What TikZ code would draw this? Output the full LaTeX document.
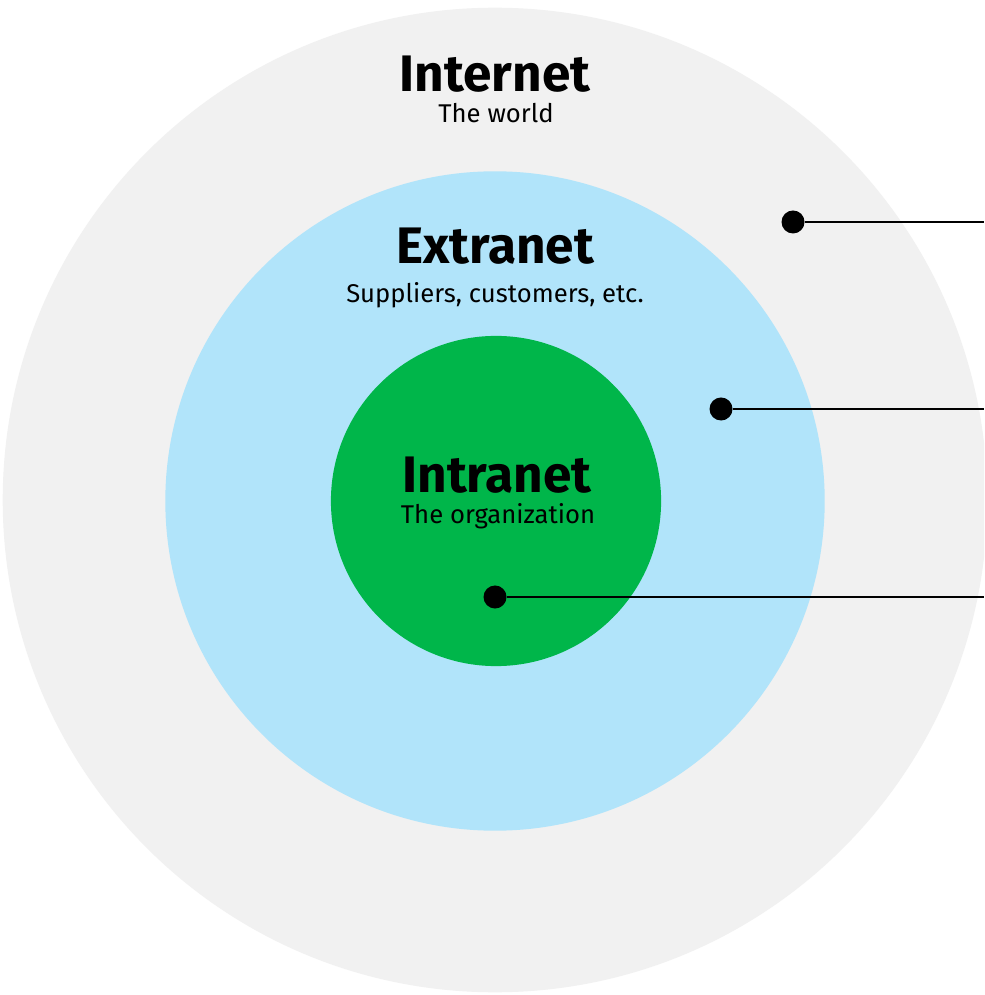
\documentclass[tikz,border=0pt]{standalone}
\usepackage{fontspec}
\setmainfont{Fira Sans}
\usetikzlibrary{positioning}
\definecolor{netgrey}{HTML}{F1F1F1}
\definecolor{netblue}{HTML}{B1E4FA}
\definecolor{netgreen}{HTML}{00B64A}
\tikzset{
    zone/.style={circle, inner sep=0pt},
    title/.style={anchor=base, font=\fontsize{14.6}{16}\selectfont\bfseries},
    subtitle/.style={anchor=base, font=\fontsize{7.3}{9}\selectfont},
    pin/.style={circle, fill=black, inner sep=0pt, minimum size=0.23cm},
    leader/.style={line width=0.7pt}
}
\begin{document}
\begin{tikzpicture}[x=0.01cm, y=-0.01cm]
    \useasboundingbox (0, 0) rectangle (984, 995);
    \clip (0, 0) rectangle (984, 995);
    \fill [white] (0, 0) rectangle (984, 995);

    \node [zone, fill=netgrey, minimum size=9.84cm] (internet) at (495, 500) {};
    \node [zone, fill=netblue, minimum size=6.59cm] (extranet) at (495, 501) {};
    \node [zone, fill=netgreen, minimum size=3.30cm] (intranet) at (496, 501) {};

    \node [title] (internetname) at (495, 92) {Internet};
    \node [subtitle] (internetnote) at (496, 123) {The world};
    \node [title] (extranetname) at (495, 264) {Extranet};
    \node [subtitle] (extranetnote) at (495, 303) {Suppliers, customers, etc.};
    \node [title] (intranetname) at (497, 493) {Intranet};
    \node [subtitle] (intranetnote) at (498, 524) {The organization};

    \foreach \i/\x/\y in {1/793/222, 2/721/409, 3/495/597} {
        \node [pin] (pin\i) at (\x, \y) {};
        \coordinate (end\i) at (984, \y);
        \draw [leader] (pin\i) -- (end\i);
    }
\end{tikzpicture}
\end{document}
